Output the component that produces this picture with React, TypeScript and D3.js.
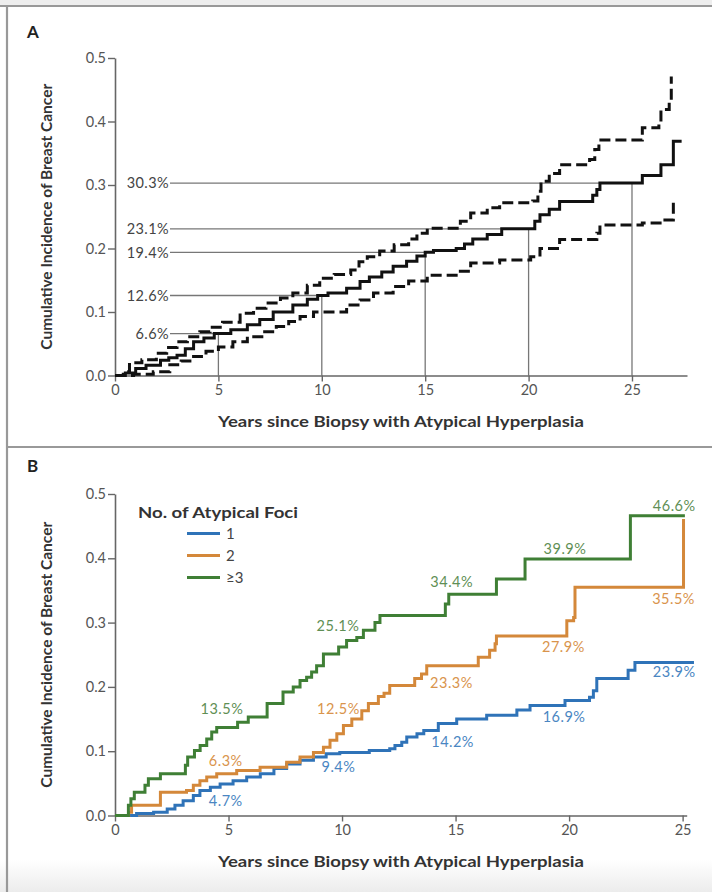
import React, { useEffect, useRef } from "react";
import * as d3 from "d3";

type Pt = [number, number];

// Panel A: cumulative incidence with 95% CI (step points: [year, value])
const estimateA: Pt[] = [
  [0, 0], [0.5, 0.004], [1.0, 0.011], [1.5, 0.016], [2.2, 0.024], [2.6, 0.028], [3.0, 0.032],
  [3.4, 0.042], [3.8, 0.053], [4.3, 0.059], [4.8, 0.066], [5.6, 0.072], [6.4, 0.08], [7.0, 0.088],
  [7.65, 0.1], [8.6, 0.111], [9.3, 0.12], [9.8, 0.126], [10.3, 0.13], [11.2, 0.1375], [11.85, 0.148],
  [12.3, 0.155], [12.9, 0.163], [13.45, 0.172], [14.1, 0.18], [14.6, 0.188], [15.0, 0.194],
  [15.4, 0.197], [16.5, 0.2], [16.9, 0.207], [17.3, 0.215], [18.0, 0.222], [18.7, 0.231],
  [20.3, 0.243], [20.55, 0.253], [21.0, 0.262], [21.5, 0.274], [23.1, 0.284], [23.3, 0.293],
  [23.45, 0.303], [25.5, 0.315], [26.4, 0.332], [27.0, 0.369], [27.4, 0.369],
];
const upperA: Pt[] = [
  [0, 0], [0.4, 0.006], [0.7, 0.02], [1.3, 0.025], [2.0, 0.035], [2.5, 0.044], [3.0, 0.053],
  [3.5, 0.061], [4.1, 0.069], [4.6, 0.076], [5.2, 0.084], [6.05, 0.098], [6.7, 0.106], [7.3, 0.114],
  [8.0, 0.122], [8.6, 0.13], [9.3, 0.142], [9.9, 0.153], [10.6, 0.159], [11.4, 0.166], [11.8, 0.179],
  [12.2, 0.187], [12.8, 0.196], [13.5, 0.206], [14.2, 0.215], [14.6, 0.224], [15.1, 0.232],
  [16.7, 0.243], [17.2, 0.256], [18.0, 0.264], [18.6, 0.272], [20.2, 0.275], [20.45, 0.29],
  [20.6, 0.306], [21.0, 0.318], [21.5, 0.332], [22.95, 0.34], [23.2, 0.356], [23.4, 0.371],
  [25.5, 0.39], [26.3, 0.398], [26.4, 0.419], [26.8, 0.43], [26.9, 0.471],
];
const lowerA: Pt[] = [
  [0, 0], [0.9, 0.002], [1.85, 0.006], [2.65, 0.017], [3.2, 0.023], [3.8, 0.03], [4.4, 0.038],
  [5.0, 0.045], [5.7, 0.053], [6.4, 0.061], [7.1, 0.069], [7.8, 0.077], [8.4, 0.085], [8.95, 0.093],
  [9.6, 0.1], [11.2, 0.111], [11.85, 0.119], [12.5, 0.13], [13.45, 0.14], [14.2, 0.149],
  [15.1, 0.158], [16.7, 0.164], [17.2, 0.177], [18.6, 0.182], [20.1, 0.187], [20.55, 0.2],
  [21.5, 0.214], [23.3, 0.224], [23.45, 0.237], [25.5, 0.24], [26.5, 0.245], [27.0, 0.272],
];
const markYearsA = [5, 10, 15, 20, 25];
const markValuesA = [0.066, 0.126, 0.194, 0.231, 0.303];
const markLabelsA = ["6.6%", "12.6%", "19.4%", "23.1%", "30.3%"];

// Panel B: by number of atypical foci
const fociNames = ["1", "2", "\u22653"];
const fociOne: Pt[] = [
  [0, 0], [0.95, 0.003], [1.7, 0.005], [2.3, 0.01], [2.64, 0.016], [3.0, 0.023], [3.45, 0.031],
  [3.74, 0.039], [4.2, 0.044], [4.63, 0.049], [5.2, 0.054], [5.8, 0.06], [6.4, 0.065], [7.0, 0.073],
  [7.56, 0.08], [8.15, 0.086], [8.74, 0.091], [9.3, 0.096], [9.9, 0.098], [11.2, 0.101],
  [12.1, 0.104], [12.33, 0.109], [12.63, 0.114], [12.85, 0.122], [13.3, 0.127], [13.6, 0.132],
  [14.24, 0.143], [15.05, 0.15], [16.37, 0.156], [17.7, 0.164], [18.28, 0.171], [19.82, 0.179],
  [20.9, 0.184], [21.07, 0.194], [21.22, 0.213], [22.6, 0.226], [22.9, 0.238], [25.5, 0.238],
];
const fociTwo: Pt[] = [
  [0, 0], [0.6, 0.005], [0.73, 0.016], [2.0, 0.036], [3.15, 0.039], [3.45, 0.047], [3.74, 0.054],
  [4.04, 0.06], [4.48, 0.065], [5.36, 0.07], [6.39, 0.075], [7.56, 0.083], [8.15, 0.091],
  [8.74, 0.098], [9.18, 0.106], [9.47, 0.117], [9.77, 0.127], [10.06, 0.14], [10.43, 0.15],
  [10.87, 0.163], [11.16, 0.174], [11.6, 0.185], [11.85, 0.19], [12.1, 0.202], [13.2, 0.213],
  [13.5, 0.22], [13.73, 0.233], [16.0, 0.246], [16.5, 0.257], [16.74, 0.267], [16.8, 0.279],
  [19.9, 0.303], [20.2, 0.308], [20.26, 0.355], [25.04, 0.461],
];
const fociThree: Pt[] = [
  [0, 0], [0.59, 0.016], [0.7, 0.026], [0.85, 0.036], [1.32, 0.047], [1.47, 0.057], [2.0, 0.065],
  [3.1, 0.078], [3.2, 0.091], [3.5, 0.101], [3.75, 0.109], [4.04, 0.119], [4.26, 0.13], [4.48, 0.137],
  [5.4, 0.145], [5.87, 0.153], [6.7, 0.174], [7.4, 0.192], [7.85, 0.2], [8.15, 0.21], [8.44, 0.215],
  [8.66, 0.223], [8.88, 0.233], [9.18, 0.251], [9.85, 0.262], [10.2, 0.272], [10.65, 0.277],
  [10.94, 0.288], [11.45, 0.3], [11.67, 0.311], [14.55, 0.329], [14.7, 0.344], [16.8, 0.368],
  [18.06, 0.399], [22.7, 0.466], [25.1, 0.466],
];
// annotation labels: [text, year, value]
const labelsOne: [string, number, number][] = [
  ["4.7%", 4.88, 0.023], ["9.4%", 9.84, 0.075], ["14.2%", 14.87, 0.114], ["16.9%", 19.78, 0.153], ["23.9%", 24.63, 0.223],
];
const labelsTwo: [string, number, number][] = [
  ["6.3%", 4.88, 0.0855], ["12.5%", 9.84, 0.166], ["23.3%", 14.82, 0.207], ["27.9%", 19.75, 0.262], ["35.5%", 24.6, 0.337],
];
const labelsThree: [string, number, number][] = [
  ["13.5%", 4.71, 0.166], ["25.1%", 9.82, 0.295], ["34.4%", 14.83, 0.363], ["39.9%", 19.82, 0.415], ["46.6%", 24.63, 0.482],
];

const yTicks = [0, 0.1, 0.2, 0.3, 0.4, 0.5];
const xTicks = [0, 5, 10, 15, 20, 25];

const lineColors = ["#2f73b8", "#d4883a", "#3f7f35"];
const textColors = ["#4a86c2", "#d9944c", "#5f8f55"];
const FONT = "Lato, 'Open Sans', sans-serif";

function drawAxes(g: any, x: any, y: any) {
  const xa = g.append("g")
    .attr("transform", `translate(0,${y(0)})`)
    .call(d3.axisBottom(x).tickValues(xTicks).tickSize(6).tickSizeOuter(0).tickPadding(3).tickFormat(d3.format("d")));
  const ya = g.append("g")
    .attr("transform", `translate(${x(0)},0)`)
    .call(d3.axisLeft(y).tickValues(yTicks).tickSize(7).tickSizeOuter(0).tickPadding(2).tickFormat(d3.format(".1f")));
  [xa, ya].forEach((a: any) => {
    a.select(".domain").attr("stroke", "#666").attr("stroke-width", 1.6);
    a.selectAll(".tick line").attr("stroke", "#666").attr("stroke-width", 1.4);
    a.selectAll(".tick text").attr("fill", "#555").style("font-family", FONT).style("font-size", "14.5px");
  });
}

function titles(svg: any, letter: string, top: number, x: any, y: any) {
  svg.append("text").attr("x", 27).attr("y", top + 32)
    .style("font-family", FONT).style("font-weight", 700).style("font-size", "17px").attr("fill", "#222")
    .text(letter);
  const cy = (y(0) + y(0.5)) / 2;
  svg.append("text")
    .attr("transform", `translate(52,${cy}) rotate(-90)`)
    .attr("text-anchor", "middle")
    .attr("textLength", 266).attr("lengthAdjust", "spacingAndGlyphs")
    .style("font-family", FONT).style("font-weight", 700).style("font-size", "15px").attr("fill", "#333")
    .text("Cumulative Incidence of Breast Cancer");
  svg.append("text")
    .attr("x", 401).attr("y", y(0) + 51)
    .attr("text-anchor", "middle")
    .attr("textLength", 366).attr("lengthAdjust", "spacingAndGlyphs")
    .style("font-family", FONT).style("font-weight", 700).style("font-size", "16px").attr("fill", "#333")
    .text("Years since Biopsy with Atypical Hyperplasia");
}

export default function App() {
  const ref = useRef<SVGSVGElement | null>(null);

  useEffect(() => {
    const svg = d3.select(ref.current);
    svg.selectAll("*").remove();

    // frame
    const defs = svg.append("defs");
    const grad = defs.append("linearGradient").attr("id", "fade").attr("x1", 0).attr("x2", 0).attr("y1", 0).attr("y2", 1);
    grad.append("stop").attr("offset", "0%").attr("stop-color", "#ffffff");
    grad.append("stop").attr("offset", "100%").attr("stop-color", "#ececec");
    svg.append("rect").attr("x", 0).attr("y", 0).attr("width", 712).attr("height", 892).attr("fill", "#fff");
    svg.append("rect").attr("x", 0).attr("y", 860).attr("width", 712).attr("height", 32).attr("fill", "url(#fade)");
    svg.append("rect").attr("x", 0).attr("y", 0).attr("width", 712).attr("height", 5).attr("fill", "#eeeeee");
    svg.append("line").attr("x1", 0).attr("x2", 712).attr("y1", 6).attr("y2", 6).attr("stroke", "#999").attr("stroke-width", 2.2);
    svg.append("line").attr("x1", 7).attr("x2", 7).attr("y1", 6).attr("y2", 892).attr("stroke", "#999").attr("stroke-width", 2.2);
    svg.append("line").attr("x1", 7).attr("x2", 712).attr("y1", 447).attr("y2", 447).attr("stroke", "#999").attr("stroke-width", 2.2);

    // ---------- Panel A ----------
    const xA = d3.scaleLinear().domain([0, 27.66]).range([115, 687]);
    const yA = d3.scaleLinear().domain([0, 0.5]).range([375.5, 58]);
    const gA = svg.append("g");

    // reference lines
    markYearsA.forEach((yr, i) => {
      const v = markValuesA[i];
      gA.append("line").attr("x1", 170).attr("x2", xA(yr)).attr("y1", yA(v)).attr("y2", yA(v))
        .attr("stroke", "#777").attr("stroke-width", 1.3);
      gA.append("line").attr("x1", xA(yr)).attr("x2", xA(yr)).attr("y1", yA(0)).attr("y2", yA(v))
        .attr("stroke", "#777").attr("stroke-width", 1.3);
      gA.append("text").attr("x", 169).attr("y", yA(v)).attr("dy", "0.36em")
        .attr("text-anchor", "end").attr("fill", "#444")
        .style("font-family", FONT).style("font-size", "14.5px").style("letter-spacing", "0.4px")
        .text(markLabelsA[i]);
    });

    drawAxes(gA, xA, yA);

    const lineA = d3.line<Pt>().x(d => xA(d[0])).y(d => yA(d[1])).curve(d3.curveStepAfter);
    [upperA, lowerA].forEach(s => {
      gA.append("path").attr("d", lineA(s)).attr("fill", "none").attr("stroke", "#111")
        .attr("stroke-width", 3).attr("stroke-dasharray", "11,5");
    });
    gA.append("path").attr("d", lineA(estimateA)).attr("fill", "none").attr("stroke", "#111").attr("stroke-width", 3);

    titles(svg, "A", 6, xA, yA);

    // ---------- Panel B ----------
    const xB = d3.scaleLinear().domain([0, 25.18]).range([115, 686.7]);
    const yB = d3.scaleLinear().domain([0, 0.5]).range([815.5, 494]);
    const gB = svg.append("g");
    drawAxes(gB, xB, yB);

    const lineB = d3.line<Pt>().x(d => xB(d[0])).y(d => yB(d[1])).curve(d3.curveStepAfter);
    const seriesB = [fociOne, fociTwo, fociThree];
    const labelsB = [labelsOne, labelsTwo, labelsThree];
    seriesB.forEach((s, i) => {
      gB.append("path").attr("d", lineB(s)).attr("fill", "none").attr("stroke", lineColors[i]).attr("stroke-width", 3);
    });
    labelsB.forEach((ls, i) => {
      ls.forEach(([t, yr, v]) => {
        gB.append("text").attr("x", xB(yr)).attr("y", yB(v)).attr("dy", "0.36em")
          .attr("text-anchor", "middle").attr("fill", textColors[i])
          .style("font-family", FONT).style("font-size", "14.5px").style("letter-spacing", "0.5px")
          .text(t);
      });
    });

    // legend
    const leg = gB.append("g");
    leg.append("text").attr("x", 138).attr("y", 518)
      .attr("textLength", 160).attr("lengthAdjust", "spacingAndGlyphs")
      .style("font-family", FONT).style("font-weight", 700).style("font-size", "15.5px").attr("fill", "#333")
      .text("No. of Atypical Foci");
    fociNames.forEach((n, i) => {
      const ly = 533.5 + i * 22;
      leg.append("line").attr("x1", 187).attr("x2", 220).attr("y1", ly).attr("y2", ly)
        .attr("stroke", lineColors[i]).attr("stroke-width", 3);
      leg.append("text").attr("x", 226).attr("y", ly).attr("dy", "0.36em").attr("fill", "#444")
        .style("font-family", FONT).style("font-size", "15px").text(n);
    });

    titles(svg, "B", 440, xB, yB);
  }, []);

  return (
    <svg ref={ref} width={712} height={892}
      style={{ position: "absolute", left: 0, top: 0, display: "block" }} />
  );
}
